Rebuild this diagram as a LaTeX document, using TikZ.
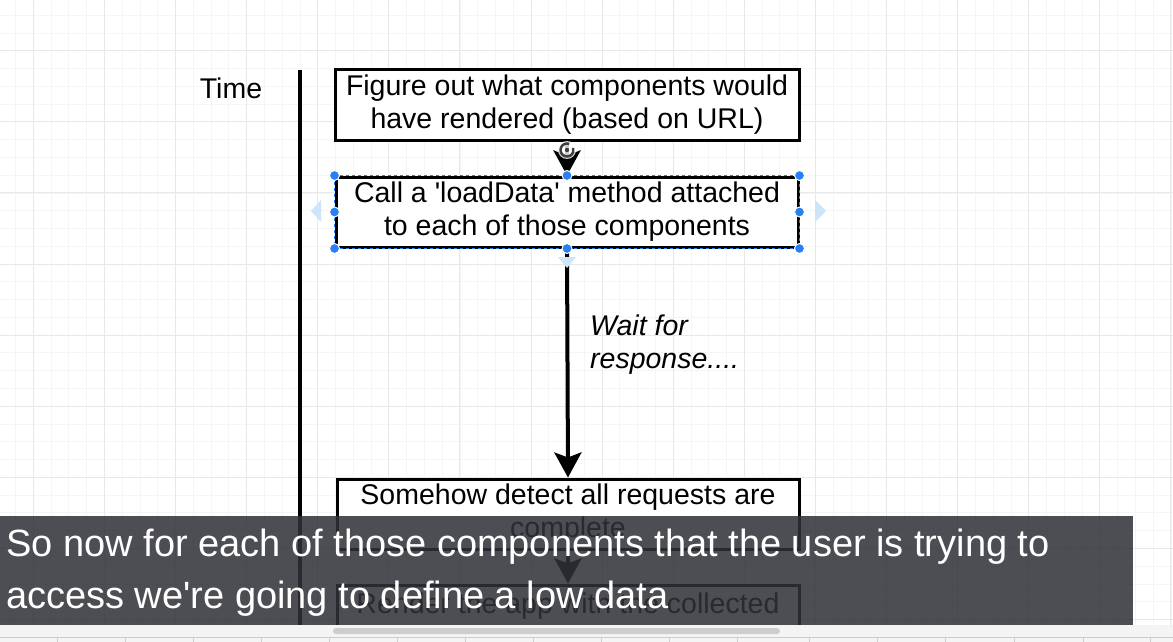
\documentclass[tikz,border=0pt]{standalone}
\usepackage{fontspec}
\setmainfont{Liberation Sans}[Ligatures=TeXOff]
\usetikzlibrary{arrows.meta}
\definecolor{gridminor}{RGB}{245,245,245}
\definecolor{gridmajor}{RGB}{232,232,232}
\definecolor{subbg}{RGB}{48,49,55}
\definecolor{handle}{RGB}{41,128,245}
\definecolor{hoverblue}{RGB}{205,228,250}
\definecolor{stripgray}{RGB}{244,244,244}
\definecolor{tabline}{RGB}{205,205,205}
\definecolor{scrollgray}{RGB}{205,205,205}
\tikzset{
  stepbox/.style={draw=black, line width=3pt, fill=white, minimum height=70pt, inner sep=0pt,
    align=center, font=\fontsize{28.5}{33}\selectfont},
  flow/.style={line width=4pt, -{Stealth[length=25pt,width=27pt,inset=5pt]}},
  handledot/.style={circle, fill=handle, draw=white, line width=1pt, minimum size=10pt, inner sep=0pt},
  label/.style={font=\fontsize{28.5}{33}\selectfont, inner sep=0pt},
  subtitle/.style={font=\fontsize{38}{44}\selectfont, text=white, inner sep=0pt}
}
\begin{document}
\begin{tikzpicture}[x=1pt,y=-1pt]
\useasboundingbox (0,0) rectangle (1173,642);
\fill[white] (0,0) rectangle (1173,642);
\begin{scope}
\clip (0,0) rectangle (1173,625);
% grid
\foreach \i in {-1,...,64} {
  \draw[gridminor, line width=0.8pt] ({33.3+17.775*\i},0) -- ({33.3+17.775*\i},642);
}
\foreach \i in {-3,...,33} {
  \draw[gridminor, line width=0.8pt] (0,{50.7+17.775*\i}) -- (1173,{50.7+17.775*\i});
}
\foreach \i in {0,...,16} {
  \draw[gridmajor, line width=1pt] ({33.3+71.1*\i},0) -- ({33.3+71.1*\i},642);
}
\foreach \i in {0,...,8} {
  \draw[gridmajor, line width=1pt] (0,{50.7+71.1*\i}) -- (1173,{50.7+71.1*\i});
}
% time axis
\node[label] (time) at (231,88) {Time};
\coordinate (ttop) at (300,70);
\coordinate (tbot) at (300,640);
\draw[line width=4pt] (ttop) -- (tbot);
% boxes
\node[stepbox, minimum width=464pt] (b1) at (567,105) {Figure out what components would\\have rendered (based on URL)};
\node[stepbox, minimum width=462pt] (b2) at (567,212) {Call a 'loadData' method attached\\to each of those components};
\node[stepbox, minimum width=462pt] (b3) at (568,514) {Somehow detect all requests are\\complete};
\node[stepbox, minimum width=462pt] (b4) at (568,620) {Render the app with the collected\\\phantom{data}};
% connectors
\draw[flow] (b1.south) -- (b2.north);
\draw[flow] (b2.south) -- (b3.north);
\draw[flow] (b3.south) -- (b4.north);
\node[label, font=\fontsize{28.5}{33}\selectfont\itshape, align=left, anchor=west] (wait) at (590,345) {Wait for\\response....};
% selection UI on b2
\draw[handle, line width=1pt, dash pattern=on 3pt off 3pt] (b2.north west) rectangle (b2.south east);
\fill[hoverblue] (321,200) -- (311,211) -- (321,222) -- cycle;
\fill[hoverblue] (815,200) -- (826,211) -- (815,222) -- cycle;
\fill[hoverblue] (558,257) -- (576,257) -- (567,268) -- cycle;
\foreach \a in {north west,north,north east,west,east,south west,south,south east} {
  \node[handledot] at (b2.\a) {};
}
% rotate handle
\fill[white, opacity=0.8] (567,150) circle (9pt);
\draw[black!75, line width=2.5pt] (567,150) ++(70:6.5pt) arc (70:380:6.5pt);
\fill[black!75] (567,150) circle (2.2pt);
% subtitle overlay
\fill[subbg, opacity=0.86] (0,516) rectangle (1133,625);
\node[subtitle, anchor=base west] (s1) at (6,556) {So now for each of those components that the user is trying to};
\node[subtitle, anchor=base west] (s2) at (6,608) {access we're going to define a low data};
\end{scope}
% bottom scroll / tab strip
\fill[stripgray] (0,625) rectangle (1173,642);
\fill[scrollgray, rounded corners=3pt] (333,628) rectangle (780,634);
\draw[tabline, line width=1pt] (0,637.5) -- (1173,637.5);
\foreach \x in {57,125,193,261,329,397,465,533,601,669,737,809,877,945,1014,1083,1150} {
  \draw[tabline, line width=1pt] (\x,638) -- (\x,642);
}
\end{tikzpicture}
\end{document}
